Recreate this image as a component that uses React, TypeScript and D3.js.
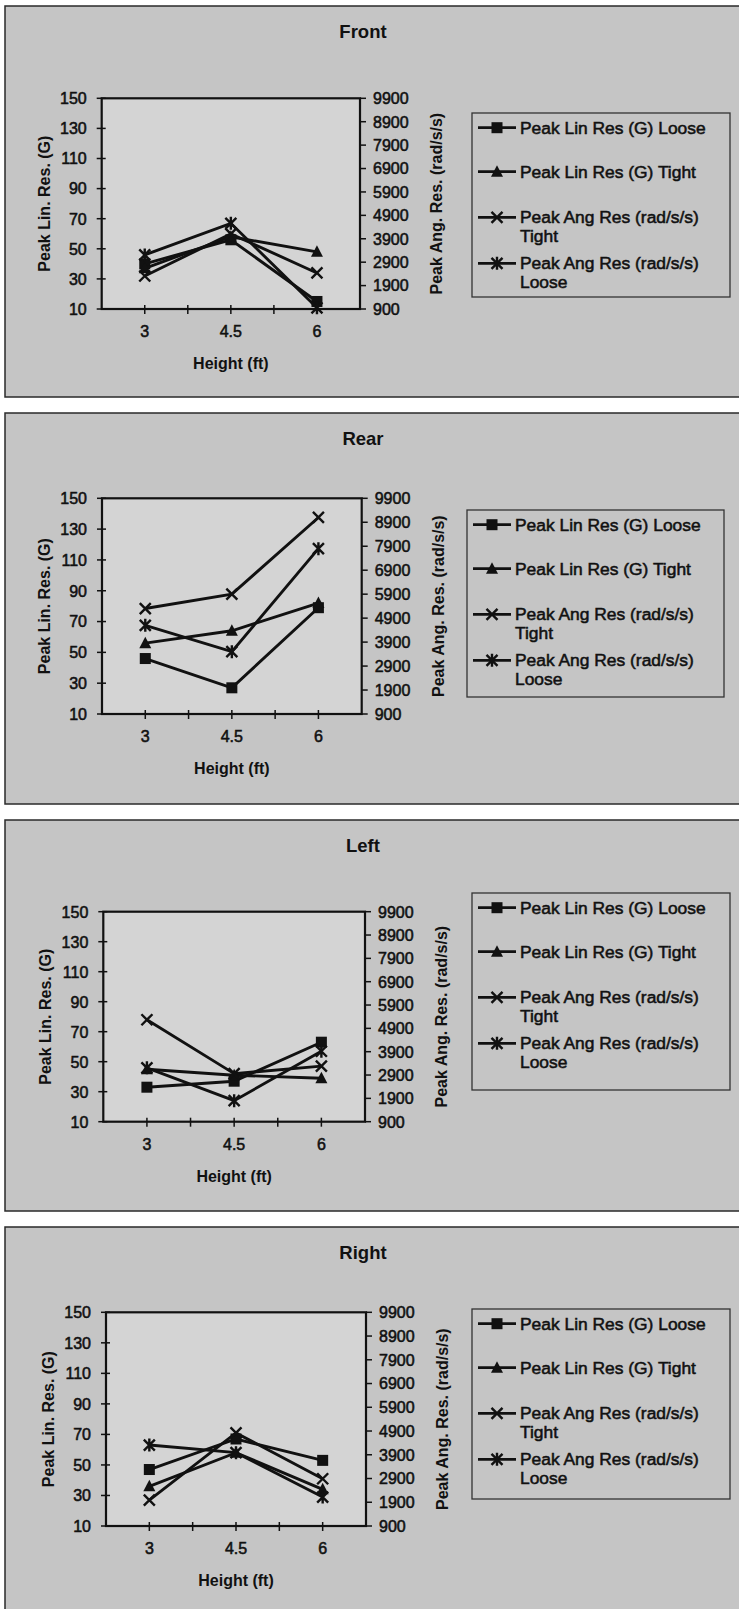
import React from 'react';
import * as d3 from 'd3';

// ---------- data ----------
const heights = ['3', '4.5', '6'];
const panelTitles = ['Front', 'Rear', 'Left', 'Right'];
const linTicks = [10, 30, 50, 70, 90, 110, 130, 150];
const angTicks = [900, 1900, 2900, 3900, 4900, 5900, 6900, 7900, 8900, 9900];
const seriesLegend = [
  ['Peak Lin Res (G) Loose'],
  ['Peak Lin Res (G) Tight'],
  ['Peak Ang Res (rad/s/s)', 'Tight'],
  ['Peak Ang Res (rad/s/s)', 'Loose'],
];

// Peak linear response (G) – left axis
const frontLinLoose = [40, 56, 15];
const frontLinTight = [37, 58, 48];
const rearLinLoose = [46, 27, 79];
const rearLinTight = [56, 64, 82];
const leftLinLoose = [33, 37, 63];
const leftLinTight = [45, 41, 39];
const rightLinLoose = [47, 67, 53];
const rightLinTight = [36, 58, 34];

// Peak angular response (rad/s/s) – right axis
const frontAngTight = [2310, 4110, 2440];
const frontAngLoose = [3210, 4560, 950];
const rearAngTight = [5300, 5900, 9100];
const rearAngLoose = [4600, 3500, 7800];
const leftAngTight = [5270, 2960, 3280];
const leftAngLoose = [3210, 1800, 3920];
const rightAngTight = [1990, 4820, 2890];
const rightAngLoose = [4310, 3990, 2120];

const panelSeries = [
  [frontLinLoose, frontLinTight, frontAngTight, frontAngLoose],
  [rearLinLoose, rearLinTight, rearAngTight, rearAngLoose],
  [leftLinLoose, leftLinTight, leftAngTight, leftAngLoose],
  [rightLinLoose, rightLinTight, rightAngTight, rightAngLoose],
];
const seriesAxis = ['lin', 'lin', 'ang', 'ang'];
const seriesMarker = ['square', 'triangle', 'x', 'star'];

// ---------- layout ----------
const W = 739;
const H = 1609;
const panelTops = [6, 413, 820, 1227];
const plotBoxes = [
  { x0: 101.7, x1: 360, y0: 92.3, y1: 303 },
  { x0: 102, x1: 361.7, y0: 85.3, y1: 301 },
  { x0: 103.3, x1: 365, y0: 91.7, y1: 301.7 },
  { x0: 106, x1: 366, y0: 85.3, y1: 299 },
];
const legendBoxes = [
  { x: 472, y: 107, w: 258, h: 184 },
  { x: 467, y: 97, w: 257, h: 187 },
  { x: 472, y: 73, w: 258, h: 197 },
  { x: 472, y: 82, w: 258, h: 190 },
];
const FONT = '"Liberation Sans", Arial, Helvetica, sans-serif';
const PANEL_FILL = '#c5c5c5';
const PLOT_FILL = '#d4d4d4';
const INK = '#111';

function Marker({ kind, cx, cy }: { kind: string; cx: number; cy: number }) {
  if (kind === 'square') {
    return <rect x={cx - 5.5} y={cy - 5.5} width={11} height={11} fill={INK} />;
  }
  if (kind === 'triangle') {
    return <path d={`M${cx},${cy - 6.5}L${cx + 6},${cy + 5}L${cx - 6},${cy + 5}Z`} fill={INK} />;
  }
  if (kind === 'x') {
    return (
      <path
        d={`M${cx - 5.5},${cy - 5.5}L${cx + 5.5},${cy + 5.5}M${cx - 5.5},${cy + 5.5}L${cx + 5.5},${cy - 5.5}`}
        stroke={INK}
        strokeWidth={2.4}
        fill="none"
      />
    );
  }
  return (
    <path
      d={`M${cx - 5.5},${cy - 5.5}L${cx + 5.5},${cy + 5.5}M${cx - 5.5},${cy + 5.5}L${cx + 5.5},${cy - 5.5}M${cx},${cy - 6.5}L${cx},${cy + 6.5}`}
      stroke={INK}
      strokeWidth={2.4}
      fill="none"
    />
  );
}

const thick = { stroke: INK, strokeWidth: 0.55 };

function Panel({ idx }: { idx: number }) {
  const top = panelTops[idx];
  const pb = plotBoxes[idx];
  const x0 = pb.x0;
  const x1 = pb.x1;
  const y0 = top + pb.y0;
  const y1 = top + pb.y1;

  const x = d3.scalePoint<string>().domain(heights).range([x0, x1]).padding(0.5);
  const yLin = d3.scaleLinear().domain([10, 150]).range([y1, y0]);
  const yAng = d3.scaleLinear().domain([900, 9900]).range([y1, y0]);
  const step = x.step();
  const halfTicks = d3.range(1, 6).map((k) => x0 + (k * step) / 2);

  const series = panelSeries[idx];
  const lb = legendBoxes[idx];
  const lx = lb.x;
  const ly = top + lb.y;
  const rowCenters = [14.7, 58.7, 104.3, 150.3];

  return (
    <g>
      <rect x={5} y={top} width={760} height={391} fill={PANEL_FILL} stroke="#2a2a2a" strokeWidth={1.5} />
      <text x={363} y={top + 32} textAnchor="middle" fontFamily={FONT} fontWeight="bold" fontSize={18.5} fill={INK}>
        {panelTitles[idx]}
      </text>

      {/* plot area */}
      <rect x={x0} y={y0} width={x1 - x0} height={y1 - y0} fill={PLOT_FILL} stroke={INK} strokeWidth={2.2} />

      {/* left axis */}
      {linTicks.map((t) => (
        <g key={'l' + t}>
          <line x1={x0 - 5} x2={x0 + 4} y1={yLin(t)} y2={yLin(t)} stroke={INK} strokeWidth={1.5} />
          <text x={x0 - 15} y={yLin(t) + 5.8} textAnchor="end" fontFamily={FONT} fontSize={16} fill={INK} {...thick}>
            {t}
          </text>
        </g>
      ))}
      {/* right axis */}
      {angTicks.map((t) => (
        <g key={'r' + t}>
          <line x1={x1} x2={x1 + 6} y1={yAng(t)} y2={yAng(t)} stroke={INK} strokeWidth={1.5} />
          <text x={x1 + 13} y={yAng(t) + 5.8} textAnchor="start" fontFamily={FONT} fontSize={16} fill={INK} {...thick}>
            {t}
          </text>
        </g>
      ))}
      {/* bottom axis */}
      {halfTicks.map((t, i) => (
        <line key={'b' + i} x1={t} x2={t} y1={y1 - 4} y2={y1 + 5} stroke={INK} strokeWidth={1.5} />
      ))}
      {heights.map((h) => (
        <text key={'h' + h} x={x(h)} y={y1 + 28} textAnchor="middle" fontFamily={FONT} fontSize={16} fill={INK} {...thick}>
          {h}
        </text>
      ))}

      {/* axis titles */}
      <text
        transform={`translate(${x0 - 52},${(y0 + y1) / 2}) rotate(-90)`}
        textAnchor="middle"
        fontFamily={FONT}
        fontWeight="bold"
        fontSize={16}
        fill={INK}
      >
        Peak Lin. Res. (G)
      </text>
      <text
        transform={`translate(${x1 + 82},${(y0 + y1) / 2}) rotate(-90)`}
        textAnchor="middle"
        fontFamily={FONT}
        fontWeight="bold"
        fontSize={16}
        fill={INK}
      >
        Peak Ang. Res. (rad/s/s)
      </text>
      <text x={(x0 + x1) / 2} y={y1 + 60} textAnchor="middle" fontFamily={FONT} fontWeight="bold" fontSize={16} fill={INK}>
        Height (ft)
      </text>

      {/* series */}
      {series.map((vals, si) => {
        const ys = seriesAxis[si] === 'lin' ? yLin : yAng;
        const line = d3
          .line<number>()
          .x((_, i) => x(heights[i]) as number)
          .y((v) => ys(v));
        return (
          <g key={'s' + si}>
            <path d={line(vals) || ''} fill="none" stroke={INK} strokeWidth={2.9} />
            {vals.map((v, i) => (
              <Marker key={i} kind={seriesMarker[si]} cx={x(heights[i]) as number} cy={ys(v)} />
            ))}
          </g>
        );
      })}

      {/* legend */}
      <rect x={lx} y={ly} width={lb.w} height={lb.h} fill="none" stroke="#333" strokeWidth={1.3} />
      {seriesLegend.map((lines, si) => {
        const cy = ly + rowCenters[si];
        return (
          <g key={'lg' + si}>
            <line x1={lx + 6} x2={lx + 44} y1={cy} y2={cy} stroke={INK} strokeWidth={2.8} />
            <Marker kind={seriesMarker[si]} cx={lx + 25} cy={cy} />
            {lines.map((s, li) => (
              <text key={li} x={lx + 48} y={cy + 6 + li * 19} fontFamily={FONT} fontSize={17.4} fill={INK} {...thick}>
                {s}
              </text>
            ))}
          </g>
        );
      })}
    </g>
  );
}

export default function App() {
  return (
    <svg
      width={W}
      height={H}
      viewBox={`0 0 ${W} ${H}`}
      style={{ position: 'absolute', left: 0, top: 0, display: 'block', background: '#ffffff' }}
    >
      {panelTitles.map((_, i) => (
        <Panel key={i} idx={i} />
      ))}
    </svg>
  );
}
